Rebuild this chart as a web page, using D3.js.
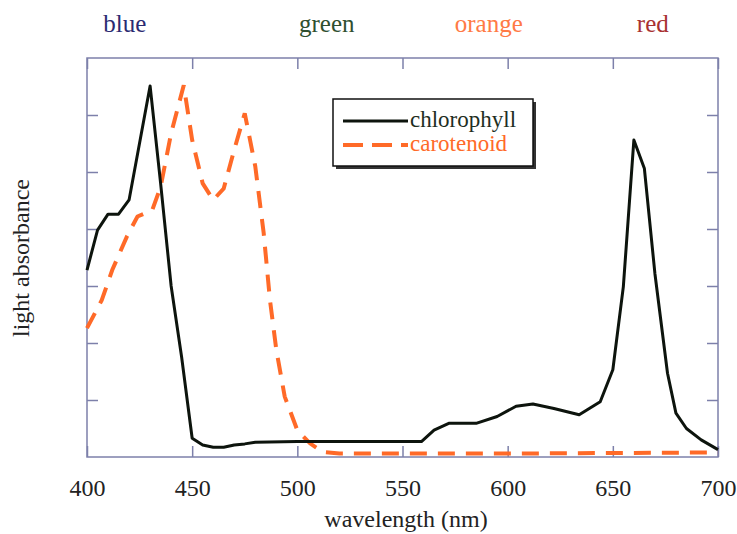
<!DOCTYPE html>
<html>
<head>
<meta charset="utf-8">
<script src="https://cdn.jsdelivr.net/npm/d3@7"></script>
<style>
  body { margin: 0; background: #fff; }
  svg text { font-family: "Liberation Serif", "Times New Roman", serif; }
</style>
</head>
<body>
<svg width="737" height="534"></svg>
<script>
// wavelength (nm) / absorbance pairs
const chlorophyllNm = [400, 405, 410, 415, 420, 430, 435, 440, 445, 450, 455, 460, 465, 470, 475, 480, 500, 530, 559, 565, 572, 585, 595, 604, 612, 622, 634, 644, 650, 655, 660, 665, 670, 676, 680, 685, 692, 700];
const chlorophyllAbs = [3.28, 3.98, 4.26, 4.26, 4.51, 6.51, 4.8, 3.0, 1.75, 0.33, 0.21, 0.17, 0.17, 0.21, 0.23, 0.26, 0.27, 0.27, 0.27, 0.47, 0.59, 0.59, 0.71, 0.89, 0.93, 0.85, 0.74, 0.97, 1.53, 2.99, 5.56, 5.06, 3.22, 1.47, 0.77, 0.5, 0.3, 0.13];

const carotenoidNm = [400, 407, 412, 419, 424, 431, 435, 440, 446, 450, 455, 460, 465, 470, 475, 480, 484, 487, 490, 494, 500, 506, 512, 520, 600, 700];
const carotenoidAbs = [2.26, 2.75, 3.28, 3.87, 4.22, 4.33, 4.74, 5.68, 6.52, 5.56, 4.8, 4.51, 4.71, 5.39, 6.03, 5.1, 3.93, 2.75, 1.88, 1.06, 0.47, 0.24, 0.09, 0.06, 0.06, 0.08];

const xTicks = [400, 450, 500, 550, 600, 650, 700];
const yTicks = [1, 2, 3, 4, 5, 6];

const bandNames = ["blue", "green", "orange", "red"];
const bandCentres = [418, 514, 591, 669];
const bandColors = ["#2b2b72", "#2f4f2f", "#ff7a45", "#a83232"];

const seriesNames = ["chlorophyll", "carotenoid"];
const seriesColors = ["#0d140d", "#ff6a28"];

const svg = d3.select("svg");
const margin = {top: 58, right: 19, bottom: 77, left: 87};
const width = +svg.attr("width") - margin.left - margin.right;
const height = +svg.attr("height") - margin.top - margin.bottom;
const g = svg.append("g").attr("transform", "translate(" + margin.left + "," + margin.top + ")");

const x = d3.scaleLinear().domain([400, 700]).range([0, width]);
const y = d3.scaleLinear().domain([0, 7]).range([height, 0]);

const frameColor = "#7d80aa";
const tickLen = 11;

// frame ticks, all pointing inward
const styleAxis = (sel) => {
  sel.select(".domain").remove();
  sel.selectAll(".tick line").attr("stroke", frameColor).attr("stroke-width", 1.5);
};

g.append("g")
    .attr("transform", "translate(0," + height + ")")
    .call(d3.axisBottom(x).tickValues(xTicks).tickSize(-tickLen).tickFormat(d3.format("d")))
    .call(styleAxis)
    .call(a => a.selectAll("text")
        .attr("y", 39).attr("dy", 0)
        .attr("font-size", 24).attr("fill", "#222")
        .style("font-family", "Liberation Serif"));

g.append("g")
    .call(d3.axisTop(x).tickValues(xTicks).tickSize(-tickLen).tickFormat(""))
    .call(styleAxis);

g.append("g")
    .call(d3.axisLeft(y).tickValues(yTicks).tickSize(-tickLen).tickFormat(""))
    .call(styleAxis);

g.append("g")
    .attr("transform", "translate(" + width + ",0)")
    .call(d3.axisRight(y).tickValues(yTicks).tickSize(-tickLen).tickFormat(""))
    .call(styleAxis);

g.append("rect")
    .attr("width", width)
    .attr("height", height)
    .attr("fill", "none")
    .attr("stroke", frameColor)
    .attr("stroke-width", 1.5);

// curves
const line = d3.line()
    .x(d => x(d[0]))
    .y(d => y(d[1]));

const series = [
  d3.zip(chlorophyllNm, chlorophyllAbs),
  d3.zip(carotenoidNm, carotenoidAbs)
];

g.append("path")
    .datum(series[1])
    .attr("fill", "none")
    .attr("stroke", seriesColors[1])
    .attr("stroke-width", 4)
    .attr("stroke-dasharray", "17,11")
    .attr("d", line);

g.append("path")
    .datum(series[0])
    .attr("fill", "none")
    .attr("stroke", seriesColors[0])
    .attr("stroke-width", 3)
    .attr("stroke-linejoin", "round")
    .attr("d", line);

// colour band labels above the frame
svg.append("g")
  .selectAll("text")
  .data(bandNames)
  .enter().append("text")
    .attr("x", (d, i) => margin.left + x(bandCentres[i]))
    .attr("y", 32)
    .attr("text-anchor", "middle")
    .attr("font-size", 25)
    .attr("fill", (d, i) => bandColors[i])
    .text(d => d);

// axis titles
svg.append("text")
    .attr("x", 406)
    .attr("y", 527)
    .attr("text-anchor", "middle")
    .attr("font-size", 24)
    .attr("fill", "#222")
    .text("wavelength (nm)");

svg.append("text")
    .attr("transform", "rotate(-90)")
    .attr("x", -258)
    .attr("y", 29)
    .attr("text-anchor", "middle")
    .attr("font-size", 24)
    .attr("fill", "#222")
    .text("light absorbance");

// legend
const legend = svg.append("g").attr("transform", "translate(333,99)");

legend.append("rect")
    .attr("x", 3).attr("y", 3)
    .attr("width", 200).attr("height", 67)
    .attr("fill", "#333");

legend.append("rect")
    .attr("width", 200).attr("height", 67)
    .attr("fill", "#fff")
    .attr("stroke", "#111")
    .attr("stroke-width", 1.5);

const item = legend.selectAll(".item")
  .data(seriesNames)
  .enter().append("g")
    .attr("class", "item")
    .attr("transform", (d, i) => "translate(0," + (22 + i * 24) + ")");

item.append("line")
    .attr("x1", 10).attr("x2", 75)
    .attr("stroke", (d, i) => seriesColors[i])
    .attr("stroke-width", (d, i) => i === 0 ? 3 : 4)
    .attr("stroke-dasharray", (d, i) => i === 0 ? null : "20,9");

item.append("text")
    .attr("x", 77)
    .attr("y", 6)
    .attr("font-size", 23)
    .attr("fill", (d, i) => i === 0 ? "#1e2e1e" : "#ff6a28")
    .text(d => d);
</script>
</body>
</html>
